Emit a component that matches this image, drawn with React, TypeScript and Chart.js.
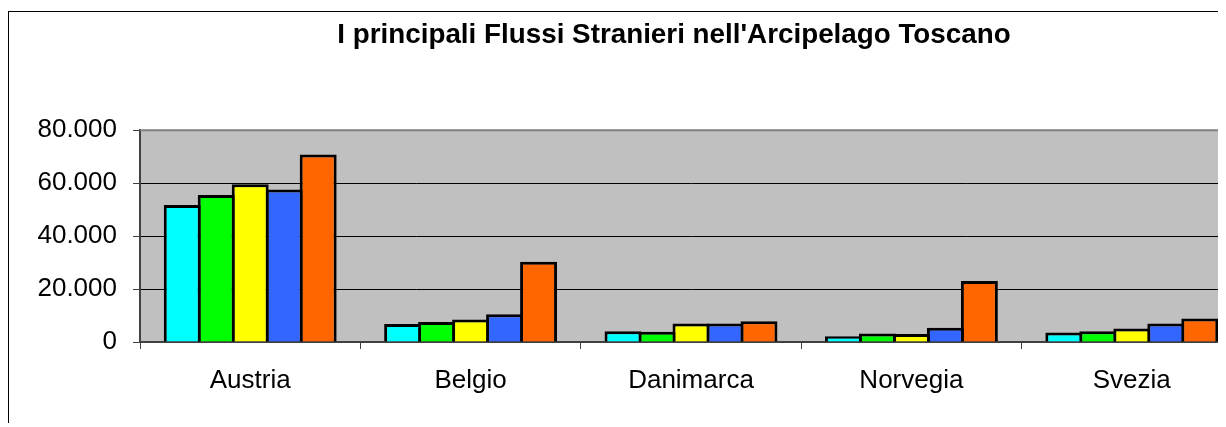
import React, { useEffect, useRef } from 'react';
import { Chart, registerables } from 'chart.js';

Chart.register(...registerables);

const chartTitle = "I principali Flussi Stranieri nell'Arcipelago Toscano";
const categories = ['Austria', 'Belgio', 'Danimarca', 'Norvegia', 'Svezia'];
const seriesCyan = [51700, 6800, 4100, 2200, 3600];
const seriesGreen = [55500, 7600, 3900, 3200, 4100];
const seriesYellow = [59600, 8500, 7000, 3000, 5100];
const seriesBlue = [57600, 10500, 7000, 5400, 7000];
const seriesOrange = [70800, 30300, 7800, 23000, 8900];
const yMin = 0;
const yMax = 80000;
const yStep = 20000;

const FONT = "'Liberation Sans', Arial, sans-serif";

const formatIt = (v: number) => String(v).replace(/\B(?=(\d{3})+(?!\d))/g, '.');

const plotArea = {
  id: 'plotArea',
  beforeDraw(chart: any) {
    const { ctx, chartArea } = chart;
    const { left, top, right, bottom } = chartArea;
    ctx.save();
    ctx.fillStyle = '#C0C0C0';
    ctx.fillRect(left, top, right - left, bottom - top);
    ctx.restore();
  },
  beforeDatasetsDraw(chart: any) {
    const { ctx, chartArea } = chart;
    const { left, top, right, bottom } = chartArea;
    ctx.save();
    ctx.strokeStyle = '#808080';
    ctx.lineWidth = 2;
    ctx.beginPath();
    ctx.moveTo(left, top);
    ctx.lineTo(right, top);
    ctx.lineTo(right, bottom);
    ctx.stroke();
    ctx.restore();
  },
};

export default function App() {
  const ref = useRef<HTMLCanvasElement | null>(null);

  useEffect(() => {
    document.documentElement.style.overflow = 'hidden';
    document.body.style.overflow = 'hidden';
    if (!ref.current) return;
    const mk = (data: number[], color: string) => ({
      data,
      backgroundColor: color,
      borderColor: '#000000',
      borderWidth: 3,
      borderSkipped: 'start' as const,
      categoryPercentage: 0.771,
      barPercentage: 1.088,
    });
    const chart = new Chart(ref.current, {
      type: 'bar',
      data: {
        labels: categories,
        datasets: [
          mk(seriesCyan, '#00FFFF'),
          mk(seriesGreen, '#00FF00'),
          mk(seriesYellow, '#FFFF00'),
          mk(seriesBlue, '#3366FF'),
          mk(seriesOrange, '#FF6600'),
        ],
      },
      options: {
        responsive: false,
        animation: false,
        devicePixelRatio: 1,
        layout: { padding: { left: 0, top: 0, right: 0, bottom: 0 } },
        plugins: {
          legend: { display: false },
          tooltip: { enabled: false },
          title: {
            display: true,
            text: chartTitle,
            color: '#000000',
            font: { family: FONT, size: 27.8, weight: 'bold', lineHeight: 1.2 },
            padding: { top: 6.4, bottom: 78.4 },
          },
        },
        scales: {
          x: {
            grid: {
              display: true,
              drawOnChartArea: false,
              drawTicks: true,
              tickLength: 7,
              tickColor: '#404040',
              offset: true,
            },
            border: { display: true, color: '#404040', width: 2 },
            ticks: {
              color: '#000000',
              font: { family: FONT, size: 26 },
              padding: 16.5,
              maxRotation: 0,
              autoSkip: false,
            },
            afterFit(s: any) {
              s.height = 100;
            },
          },
          y: {
            min: yMin,
            max: yMax,
            ticks: {
              stepSize: yStep,
              color: '#000000',
              font: { family: FONT, size: 26 },
              padding: 16,
              callback: (v: any) => formatIt(Number(v)),
            },
            grid: {
              color: (c: any) => (c.tick && c.tick.value === yMax ? '#808080' : '#000000'),
              lineWidth: 1,
              tickLength: 7,
              tickColor: '#404040',
            },
            border: { display: true, color: '#404040', width: 2 },
            afterFit(s: any) {
              s.width = 131;
            },
          },
          spacer: {
            type: 'linear',
            position: 'right',
            display: true,
            grid: { display: false, drawTicks: false },
            border: { display: false },
            ticks: { display: false },
            afterFit(s: any) {
              s.width = 97;
            },
          },
        },
      },
      plugins: [plotArea],
    });
    return () => chart.destroy();
  }, []);

  return (
    <div
      style={{
        position: 'relative',
        top: 3,
        width: 1218,
        height: 415,
        overflow: 'hidden',
        borderLeft: '1px solid #000',
        borderTop: '1px solid #000',
        boxSizing: 'border-box',
        background: '#fff',
      }}
    >
      <canvas ref={ref} width={1330} height={430} style={{ display: 'block', width: 1330, height: 430 }} />
    </div>
  );
}
